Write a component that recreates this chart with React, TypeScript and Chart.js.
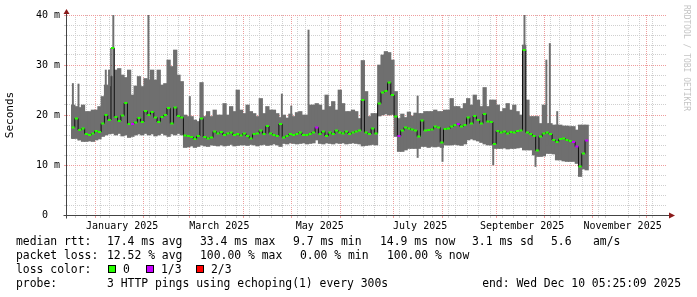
import React, { useEffect, useRef } from "react";
import { Chart, registerables } from "chart.js";

Chart.register(...registerables);

// ---- time axis (days since 2025-01-01 00:00) ----
const AXIS_START_DAY = -15.77; // 2024-12-16 05:25
const AXIS_END_DAY = 343.23; // 2025-12-10 05:25:09
const FIRST_SAMPLE_DAY = -14.8; // first consolidated sample
const SAMPLE_STEP_DAYS = 2;

// ---- smoke (min / max of the pings) in ms, one value per sample ----
const smokeLow = [
  15.3, 15.3, 15.0, 14.7, 14.7, 14.8, 14.7, 15.0, 15.2,
  15.7, 16.0, 16.2, 16.3, 16.0, 16.3, 15.8, 16.0, 15.5, 15.7, 16.0, 16.2, 16.0, 16.3, 16.0, 16.2, 15.8, 16.0, 16.3, 16.0, 15.7, 16.2, 16.0, 16.3, 16.0,
  13.5, 13.6, 13.8, 13.5, 13.7, 14.0, 13.8, 13.7, 14.0, 13.9, 13.8, 14.0, 13.8, 13.9, 14.1, 13.8, 13.9, 14.0,
  14.0, 13.9, 14.1, 14.0, 13.8, 14.0, 14.1, 13.9, 14.0, 14.2, 14.0, 13.7,
  14.3, 14.2, 14.4, 14.3, 14.2, 14.3, 14.4, 14.2, 14.3, 14.4,
  15.0,
  14.3, 14.2, 14.4, 14.3, 14.2, 14.4, 14.3, 14.4, 14.2, 14.3, 14.4, 14.3, 14.2,
  13.8, 13.9, 14.0, 14.1, 14.0,
  19.8, 20.0, 20.2, 20.0, 20.1,
  15.7,
  12.7, 12.7, 13.0, 13.3, 13.3, 13.3, 13.3, 13.7, 13.7, 13.5, 13.7, 13.6, 13.7, 13.5, 14.0, 14.0, 14.0, 14.1, 14.0, 13.9, 14.2, 15.0, 15.2, 15.0, 14.8, 14.5,
  14.2, 14.0, 14.0, 13.3, 13.3, 13.3, 13.4, 13.2, 13.3, 13.3, 13.4, 13.5, 13.0, 13.0, 13.0, 12.0, 11.7, 11.7, 11.8, 12.3, 12.3, 12.2, 11.0, 11.0, 10.8, 10.7, 10.7, 10.7, 10.3, 7.7, 9.2, 9.0,
];

const smokeHigh = [
  22.0, 21.7, 21.5, 22.0, 20.7, 20.7, 21.0, 21.0, 21.7, 23.7, 26.0, 25.7, 27.7,
  29.0, 29.3, 28.0, 27.5, 29.0, 24.0, 25.8, 27.7, 25.7, 27.3, 27.0, 29.0, 27.0, 29.0, 26.0, 26.3, 31.0, 29.7, 33.0, 28.0, 26.7,
  20.0, 19.7, 19.7, 19.0, 18.7, 26.5, 19.7, 20.7, 19.7, 21.0, 20.0, 20.0, 22.3, 20.0, 21.7, 20.7, 25.0, 21.0,
  20.3, 22.0, 20.7, 20.3, 19.7, 23.3, 20.3, 21.7, 21.0, 21.0, 20.3, 19.5, 20.0, 19.4, 20.2, 19.7, 20.5, 20.7, 20.0, 20.0,
  22.0, 22.0, 22.3, 22.0, 21.0, 24.0, 21.7, 22.7, 21.0, 25.0, 22.3, 20.7, 20.7, 21.0, 20.7, 19.3, 30.9, 24.7, 19.7, 20.3, 20.3, 30.0,
  32.0, 32.7, 32.5, 31.0,
  24.7,
  19.3, 20.2, 19.5, 20.6, 19.8, 20.4, 20.3, 20.3, 20.7, 20.7, 20.7, 21.0, 20.7, 20.7, 21.0, 21.0, 23.3, 21.7, 21.7, 21.3, 22.3, 23.3, 22.0, 24.0, 23.0, 21.7, 25.5, 21.7,
  23.0, 23.0, 22.0, 20.7, 21.3, 22.3, 21.0, 22.0, 20.7, 20.0, 34.0, 23.0, 19.7, 19.7, 19.7, 18.3, 22.0, 18.3, 18.3, 18.0, 18.0, 18.0, 17.8, 17.8, 17.7, 17.7, 17.0, 18.0, 18.0, 18.0,
];

// ---- median rtt in ms, one value per sample ----
const medianRtt = [
  17.5, 19.3, 17.0, 17.3, 16.2, 16.0, 16.3, 16.8, 16.6, 18.3, 20.0, 19.0, 33.4, 19.6, 18.8, 19.9, 22.4, 18.2, 18.2, 18.5, 19.4, 18.6, 20.8, 20.0, 20.6, 19.5, 18.6, 19.6, 20.0, 21.4, 18.3, 21.5, 19.8, 19.5,
  15.9, 15.8, 15.6, 15.2, 15.8, 19.3, 15.6, 15.3, 15.5, 16.7, 16.3, 16.6, 16.0, 16.3, 16.5, 16.0, 16.2, 15.9,
  16.3, 15.8, 15.3, 16.2, 16.3, 16.9, 16.2, 17.8, 16.3, 16.0, 15.8, 18.2, 15.5, 15.8, 16.2, 16.0, 16.2, 16.5, 16.0, 16.0, 16.2, 16.5, 17.5, 16.2, 16.7, 15.8, 16.5, 16.2, 16.9, 16.5, 16.3, 16.7, 16.2, 16.5, 16.7, 16.9, 23.0, 16.5, 16.2, 17.3, 16.3, 22.3,
  24.5, 24.8, 26.5, 24.0, 19.7,
  15.8, 16.9, 17.5, 17.3, 17.1, 16.9, 15.7, 18.9, 16.9, 17.0, 17.1, 17.7, 17.5, 14.5, 17.2, 17.3, 17.7, 18.0, 18.2, 17.7, 18.0, 19.5, 18.3, 19.8, 19.0, 18.3, 20.2, 18.7,
  18.6, 14.2, 16.8, 16.5, 16.7, 16.3, 16.6, 16.5, 16.8, 16.9, 33.0, 16.5, 16.2, 15.8, 12.9, 15.7, 16.3, 16.5, 16.2, 15.0, 14.6, 15.2, 15.3, 15.0, 14.8, 14.6, 13.7, 9.7, 12.3, 14.9,
];

// samples where 1 of 3 pings was lost
const lossOneThirdSamples = [18, 74, 99, 117, 152, 153, 156];

// ---- narrow single-column smoke spikes ----
const spikeDay = [-14.96, -11.55, 5.03, 7.0, 9.6, 30.94, 56.07, 112.0, 117.7, 128.2, 194.5, 209.6, 240.4, 259.4, 266.1, 272.7, 274.8, 279.3];
const spikeLow = [15.3, 15.0, 20.0, 20.0, 20.0, 20.0, 15.0, 15.0, 15.0, 15.0, 11.5, 10.7, 10.0, 16.0, 9.7, 14.0, 14.0, 14.0];
const spikeHigh = [26.3, 26.2, 29.0, 29.0, 40.5, 40.5, 23.7, 24.2, 21.8, 37.0, 23.8, 15.0, 15.0, 40.5, 14.0, 31.0, 34.3, 20.7];

// ---- axis ticks ----
const monthStartDays = [0, 31, 59, 90, 120, 151, 181, 212, 243, 273, 304, 334];
const firstSundayDay = -10; // 2024-12-22
const lastSundayDay = 340; // 2025-12-07
const xLabelDays = [15, 74, 135, 196, 258, 319];
const xLabels = ["January 2025", "March 2025", "May 2025", "July 2025", "September 2025", "November 2025"];
const yTickValues = [0, 2, 4, 6, 8, 10, 12, 14, 16, 18, 20, 22, 24, 26, 28, 30, 32, 34, 36, 38, 40];
const yLabelValues = [0, 10, 20, 30, 40];
const yLabels = ["0  ", "10 m", "20 m", "30 m", "40 m"];

// ---- legend text ----
const legendRows = [
  [["median rtt:", 16], ["17.4 ms avg", 107], ["33.4 ms max", 200], ["9.7 ms min", 293], ["14.9 ms now", 380], ["3.1 ms sd", 472], ["5.6", 551], ["am/s", 593]],
  [["packet loss:", 16], ["12.52 % avg", 107], ["100.00 % max", 200], ["0.00 % min", 300], ["100.00 % now", 387]],
  [["loss color:", 16], ["0", 123], ["1/3", 161], ["2/3", 211]],
  [["probe:", 16], ["3 HTTP pings using echoping(1) every 300s", 107]],
];
const lossBoxes = [["#26ff00", 108], ["#c800ff", 146], ["#ff0000", 196]];
const endText = "end: Wed Dec 10 05:25:09 2025";

const SMOKE = "#6f6f6f";
const GREEN = "#26ff00";
const MAGENTA = "#c800ff";
const MAJOR = "#ee9d9d";
const MINOR = "#cfcfcf";
const FONT = "'DejaVu Sans Mono', monospace";

const decorPlugin = {
  id: "rrdDecor",
  afterDraw(chart: any) {
    const { ctx, chartArea } = chart;
    const { left, right, top, bottom } = chartArea;
    const ax = Math.round(left) - 0.5;
    const ay = Math.round(bottom) + 0.5;
    ctx.save();
    ctx.strokeStyle = "#444";
    ctx.lineWidth = 1;
    ctx.beginPath();
    ctx.moveTo(ax - 3, ay);
    ctx.lineTo(right + 4, ay);
    ctx.moveTo(ax, ay + 3);
    ctx.lineTo(ax, top - 3);
    ctx.stroke();
    ctx.fillStyle = "#8b1a1a";
    ctx.beginPath();
    ctx.moveTo(ax, top - 6);
    ctx.lineTo(ax - 3, top - 1);
    ctx.lineTo(ax + 3, top - 1);
    ctx.closePath();
    ctx.fill();
    ctx.beginPath();
    ctx.moveTo(right + 8, ay);
    ctx.lineTo(right + 2, ay - 3);
    ctx.lineTo(right + 2, ay + 3);
    ctx.closePath();
    ctx.fill();
    // watermark
    ctx.translate(chart.width - 11, 5);
    ctx.rotate(Math.PI / 2);
    ctx.fillStyle = "#c4c4c4";
    ctx.font = "8px " + FONT;
    ctx.textBaseline = "middle";
    ctx.textAlign = "left";
    ctx.fillText("RRDTOOL / TOBI OETIKER", 0, 0);
    ctx.restore();
  },
};

export default function App() {
  const ref = useRef<HTMLCanvasElement>(null);

  useEffect(() => {
    document.body.style.margin = "0";
    const canvas = ref.current;
    if (!canvas) return;

    const sampleX = medianRtt.map((_, k) => FIRST_SAMPLE_DAY + k * SAMPLE_STEP_DAYS);
    const smokeData = sampleX.map((x, k) => ({ x, y: [smokeLow[k], smokeHigh[k]] }));
    const medianData = sampleX.map((x, k) => ({ x, y: medianRtt[k] }));
    const spikeData = spikeDay.map((x, i) => ({ x, y: [spikeLow[i], spikeHigh[i]] }));
    const pointColors = medianRtt.map((_, k) => (lossOneThirdSamples.includes(k) ? MAGENTA : GREEN));

    const tickKind = new Map<number, string>();
    for (let d = firstSundayDay; d <= lastSundayDay; d += 7) tickKind.set(d, "week");
    monthStartDays.forEach((d) => tickKind.set(d, "month"));
    xLabelDays.forEach((d) => tickKind.set(d, "label"));
    const xTickValues = Array.from(tickKind.keys()).sort((a, b) => a - b);

    const xColor = (c: any) => {
      const k = tickKind.get(c.tick?.value);
      return k === "month" ? MAJOR : k === "week" ? MINOR : "rgba(0,0,0,0)";
    };
    const yColor = (c: any) => {
      const v = c.tick?.value;
      if (v === 0) return "rgba(0,0,0,0)";
      return v % 10 === 0 ? MAJOR : MINOR;
    };

    Chart.defaults.font.family = FONT;

    const chart = new Chart(canvas, {
      type: "bar",
      data: {
        datasets: [
          {
            type: "line",
            label: "loss color",
            data: medianData,
            showLine: false,
            pointStyle: "line",
            pointRadius: 1.6,
            pointHoverRadius: 1.6,
            pointBorderWidth: 2,
            pointBorderColor: pointColors,
            pointBackgroundColor: pointColors,
            order: 0,
          } as any,
          {
            type: "line",
            label: "median rtt",
            data: medianData,
            borderColor: "#111111",
            borderWidth: 1,
            stepped: "middle",
            pointRadius: 0,
            order: 1,
          } as any,
          {
            type: "bar",
            label: "spikes",
            data: spikeData,
            backgroundColor: SMOKE,
            barThickness: 1.3,
            grouped: false,
            order: 2,
          } as any,
          {
            type: "bar",
            label: "smoke",
            data: smokeData,
            backgroundColor: SMOKE,
            barThickness: 3.6,
            grouped: false,
            order: 3,
          } as any,
        ],
      },
      options: {
        responsive: false,
        animation: false,
        events: [],
        layout: { autoPadding: false, padding: { left: 0, right: 30, top: 15, bottom: 62 } },
        plugins: { legend: { display: false }, tooltip: { enabled: false } },
        scales: {
          x: {
            type: "linear",
            min: AXIS_START_DAY,
            max: AXIS_END_DAY,
            afterBuildTicks: (s: any) => {
              s.ticks = xTickValues.map((v) => ({ value: v }));
            },
            afterFit: (s: any) => {
              s.height = 20;
            },
            grid: { color: xColor, tickColor: xColor, lineWidth: 1, tickLength: 3, drawTicks: true },
            border: { display: false, dash: [1, 1] },
            ticks: {
              autoSkip: false,
              maxRotation: 0,
              minRotation: 0,
              padding: 2,
              color: "#000",
              font: { size: 10, family: FONT },
              callback: (v: any) => {
                const i = xLabelDays.indexOf(v);
                return i >= 0 ? xLabels[i] : "";
              },
            },
          },
          y: {
            type: "linear",
            min: 0,
            max: 40,
            afterBuildTicks: (s: any) => {
              s.ticks = yTickValues.map((v) => ({ value: v }));
            },
            afterFit: (s: any) => {
              s.width = 67;
            },
            grid: { color: yColor, tickColor: yColor, lineWidth: 1, tickLength: 3, drawTicks: true },
            border: { display: false, dash: [1, 1] },
            ticks: {
              autoSkip: false,
              padding: 4,
              color: "#000",
              font: { size: 10, family: FONT },
              callback: (v: any) => {
                const i = yLabelValues.indexOf(v);
                return i >= 0 ? yLabels[i] : "";
              },
            },
            title: {
              display: true,
              text: "Seconds",
              color: "#000",
              font: { size: 11, family: FONT },
              padding: { top: 4, bottom: 0 },
            },
          },
        },
      } as any,
      plugins: [decorPlugin],
    });
    return () => chart.destroy();
  }, []);

  const textStyle: React.CSSProperties = {
    position: "absolute",
    fontFamily: FONT,
    fontSize: "11.4px",
    lineHeight: "14px",
    whiteSpace: "pre",
    color: "#000",
  };

  return (
    <div style={{ position: "relative", width: 697, height: 297, background: "#fff", overflow: "hidden" }}>
      <canvas ref={ref} width={697} height={297} style={{ display: "block", width: 697, height: 297 }} />
      {legendRows.map((row, r) =>
        row.map(([text, x], i) => (
          <div key={r + "-" + i} style={{ ...textStyle, left: x as number, top: 234 + r * 14 }}>
            {text}
          </div>
        ))
      )}
      {lossBoxes.map(([color, x], i) => (
        <div
          key={"box" + i}
          style={{
            position: "absolute",
            left: x as number,
            top: 265,
            width: 6,
            height: 6,
            background: color as string,
            border: "1px solid #000",
          }}
        />
      ))}
      <div style={{ ...textStyle, right: 16, top: 234 + 3 * 14 }}>{endText}</div>
    </div>
  );
}
